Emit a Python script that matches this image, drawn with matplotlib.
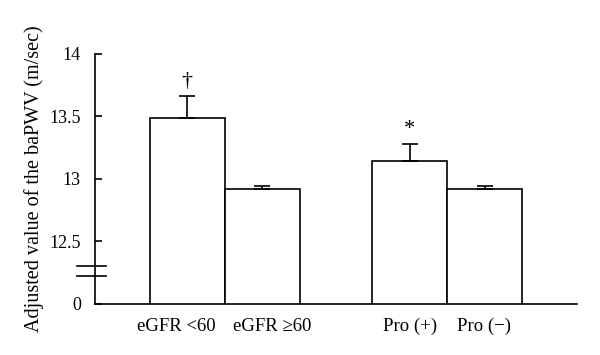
import matplotlib.pyplot as plt

grupos = ["eGFR <60", "eGFR \u226560", "Pro (+)", "Pro (\u2212)"]
posiciones = [1.23, 2.23, 4.2, 5.2]
valores = [13.49, 12.92, 13.14, 12.92]
errores = [0.17, 0.02, 0.14, 0.02]
marcas = ["\u2020", "", "*", ""]
# las etiquetas de eGFR están algo separadas respecto al centro de la barra
pos_etiquetas = [1.09, 2.36, 4.2, 5.19]

ticks_y = [12.0, 12.5, 13.0, 13.5, 14.0]
etiquetas_y = ["0", "12.5", "13", "13.5", "14"]


def main():
    plt.rcParams["font.family"] = ["Liberation Serif", "DejaVu Serif"]
    fig = plt.figure(figsize=(6, 3.55), dpi=100)
    ax = fig.add_axes([0.158, 0.1437, 0.804, 0.7043])

    ax.bar(posiciones, valores, width=1.0, bottom=0, color="white",
           edgecolor="black", linewidth=1.2, zorder=2)
    ax.errorbar(posiciones, valores, yerr=[[0] * len(errores), errores],
                fmt="none", ecolor="black", elinewidth=1.2, capsize=6,
                capthick=1.2, zorder=3)

    for x, v, e, m in zip(posiciones, valores, errores, marcas):
        if m:
            ax.text(x, v + e + 0.04, m, ha="center", va="bottom", fontsize=16)

    ax.set_xlim(0, 6.43)
    ax.set_ylim(12.0, 14.0)
    ax.set_yticks(ticks_y)
    ax.set_yticklabels(etiquetas_y, fontsize=13)
    ax.tick_params(axis="y", direction="in", length=5, width=1.2, pad=10)
    ax.set_xticks(pos_etiquetas)
    ax.set_xticklabels(grupos, fontsize=13.5)
    ax.tick_params(axis="x", length=0, pad=10)

    ax.spines["top"].set_visible(False)
    ax.spines["right"].set_visible(False)
    ax.spines["left"].set_linewidth(1.2)
    ax.spines["bottom"].set_linewidth(1.2)

    # marcas de corte del eje
    for yb in (12.30, 12.22):
        ax.plot([-0.24, 0.15], [yb, yb], color="black", linewidth=1.2,
                clip_on=False, zorder=4)

    ax.set_ylabel("Adjusted value of the baPWV (m/sec)", fontsize=14.5,
                  labelpad=4)

    fig.savefig("out.png", dpi=100)


if __name__ == "__main__":
    main()
